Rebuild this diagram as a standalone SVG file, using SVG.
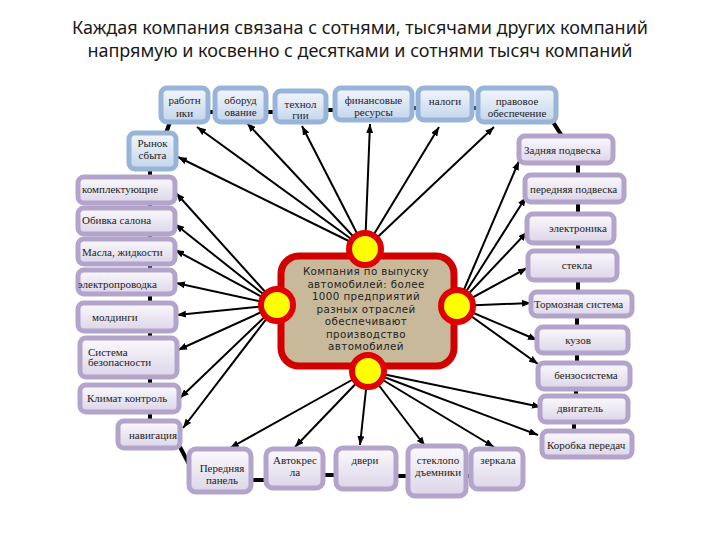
<svg xmlns="http://www.w3.org/2000/svg" width="720" height="540" viewBox="0 0 720 540">
<defs>
<linearGradient id="gp" x1="0" y1="0" x2="0" y2="1"><stop offset="0" stop-color="#fbfafd"/><stop offset="1" stop-color="#dcd5e8"/></linearGradient>
<linearGradient id="gb" x1="0" y1="0" x2="0" y2="1"><stop offset="0" stop-color="#f4f7fc"/><stop offset="1" stop-color="#c3d5ec"/></linearGradient>
<marker id="ah" markerUnits="userSpaceOnUse" markerWidth="9" markerHeight="7" refX="9" refY="3.5" orient="auto"><path d="M0,0 L9,3.5 L0,7 z" fill="#000"/></marker>
</defs>
<style>
.t{font-family:"Noto Sans","Liberation Sans",sans-serif;font-size:18px;fill:#1a1a1a;text-anchor:middle}
.p rect{fill:url(#gp);stroke:#b3a4cc;stroke-width:5}
.b rect{fill:url(#gb);stroke:#98b4d9;stroke-width:5}
.n text{font-family:"Liberation Serif",serif;font-size:11px;fill:#222}
.m{text-anchor:middle}
.ar line{stroke:#000;stroke-width:2;marker-end:url(#ah)}
.lk line{stroke:#000;stroke-width:4}
.c text{font-family:"DejaVu Sans",sans-serif;font-size:10.3px;letter-spacing:0.4px;fill:#222;text-anchor:middle}
.ci{fill:#ffff00;stroke:#e00000;stroke-width:6}
</style>
<rect width="720" height="540" fill="#fff"/>
<text class="t" x="360" y="34" textLength="576">Каждая компания связана с сотнями, тысячами других компаний</text>
<text class="t" x="360" y="57" textLength="545">напрямую и косвенно с десятками и сотнями тысяч компаний</text>

<g id="connectors">
<g class="lk">
<line x1="208" y1="112" x2="215" y2="112"/><line x1="266" y1="112" x2="275" y2="112"/><line x1="326" y1="110" x2="335" y2="110"/><line x1="412" y1="108" x2="418" y2="108"/><line x1="472" y1="108" x2="478" y2="108"/>
<line x1="553" y1="122" x2="562" y2="136"/>
<line x1="170" y1="122" x2="166" y2="133"/>
<line x1="150" y1="168" x2="150" y2="177"/><line x1="150" y1="203" x2="150" y2="208"/><line x1="150" y1="234" x2="150" y2="239"/><line x1="150" y1="264" x2="150" y2="270"/><line x1="150" y1="294" x2="150" y2="303"/><line x1="150" y1="331" x2="150" y2="338"/><line x1="150" y1="377" x2="150" y2="385"/><line x1="150" y1="412" x2="150" y2="421"/>
<line x1="180" y1="447" x2="190" y2="466"/>
<line x1="251" y1="480" x2="266" y2="480"/><line x1="323" y1="475" x2="336" y2="475"/><line x1="396" y1="476" x2="408" y2="476"/><line x1="466" y1="476" x2="471" y2="476"/>
<line x1="578" y1="163" x2="578" y2="175"/><line x1="578" y1="202" x2="578" y2="214"/><line x1="578" y1="243" x2="578" y2="251"/><line x1="578" y1="280" x2="578" y2="292"/><line x1="577" y1="316" x2="577" y2="327"/><line x1="577" y1="353" x2="577" y2="363"/><line x1="576" y1="389" x2="576" y2="396"/><line x1="574" y1="422" x2="574" y2="431"/>
</g>
<g class="ar">
<line x1="365" y1="249" x2="197" y2="127"/><line x1="365" y1="249" x2="247" y2="123"/><line x1="365" y1="249" x2="302" y2="126"/><line x1="365" y1="249" x2="370" y2="124"/><line x1="365" y1="249" x2="178" y2="157"/><line x1="365" y1="249" x2="439" y2="127"/><line x1="365" y1="249" x2="494" y2="127"/>
<line x1="277" y1="305" x2="176" y2="193"/><line x1="277" y1="305" x2="175" y2="224"/><line x1="277" y1="305" x2="175" y2="250"/><line x1="277" y1="305" x2="176" y2="283"/><line x1="277" y1="305" x2="177" y2="315"/><line x1="277" y1="305" x2="178" y2="350"/><line x1="277" y1="305" x2="180" y2="398"/><line x1="277" y1="305" x2="183" y2="428"/>
<line x1="457" y1="306" x2="519" y2="161"/><line x1="457" y1="306" x2="526" y2="197"/><line x1="457" y1="306" x2="527" y2="232"/><line x1="457" y1="306" x2="527" y2="268"/><line x1="457" y1="306" x2="531" y2="303"/><line x1="457" y1="306" x2="537" y2="340"/><line x1="457" y1="306" x2="538" y2="364"/>
<line x1="368" y1="371" x2="230" y2="448"/><line x1="368" y1="371" x2="295" y2="447"/><line x1="368" y1="371" x2="360" y2="445"/><line x1="368" y1="371" x2="425" y2="446"/><line x1="368" y1="371" x2="494" y2="447"/><line x1="368" y1="371" x2="541" y2="407"/><line x1="368" y1="371" x2="538" y2="435"/>
</g>
</g>

<g id="n-rabotniki" class="n b"><rect x="161" y="88" width="47" height="34" rx="6"/><text class="m" x="184.5" y="103.5">работн</text><text class="m" x="184.5" y="116.5">ики</text></g>
<g id="n-oborud" class="n b"><rect x="215" y="88" width="51" height="34" rx="6"/><text class="m" x="240.5" y="103.5">оборуд</text><text class="m" x="240.5" y="115.5">ование</text></g>
<g id="n-tehnol" class="n b"><rect x="275" y="91" width="51" height="31" rx="6"/><text class="m" x="300.5" y="108">технол</text><text class="m" x="300.5" y="119">гии</text></g>
<g id="n-finans" class="n b"><rect x="335" y="88" width="77" height="32" rx="6"/><text class="m" x="373.5" y="104">финансовые</text><text class="m" x="373.5" y="116">ресурсы</text></g>
<g id="n-nalogi" class="n b"><rect x="418" y="88" width="54" height="32" rx="6"/><text class="m" x="445" y="104.5">налоги</text></g>
<g id="n-pravo" class="n b"><rect x="478" y="88" width="78" height="34" rx="6"/><text class="m" x="517" y="105">правовое</text><text class="m" x="517" y="116.5">обеспечение</text></g>
<g id="n-rynok" class="n b"><rect x="129" y="133" width="47" height="36" rx="6"/><text class="m" x="152.5" y="146.5">Рынок</text><text class="m" x="152.5" y="158.5">сбыта</text></g>

<g id="n-komplekt" class="n p"><rect x="78" y="177" width="97" height="26" rx="6"/><text x="82" y="193">комплектующие</text></g>
<g id="n-obivka" class="n p"><rect x="78" y="208" width="97" height="26" rx="6"/><text x="82" y="224">Обивка салона</text></g>
<g id="n-masla" class="n p"><rect x="78" y="239" width="97" height="25" rx="6"/><text x="82" y="255.5">Масла, жидкости</text></g>
<g id="n-elprov" class="n p"><rect x="78" y="270" width="97" height="24" rx="6"/><text x="78" y="288">электропроводка</text></g>
<g id="n-moldingi" class="n p"><rect x="78" y="303" width="98" height="28" rx="6"/><text x="92" y="320.5">молдинги</text></g>
<g id="n-sistema" class="n p"><rect x="80" y="338" width="97" height="39" rx="6"/><text x="88" y="355.5">Система</text><text x="88" y="366">безопасности</text></g>
<g id="n-klimat" class="n p"><rect x="80" y="385" width="99" height="27" rx="6"/><text x="87" y="401.5">Климат контроль</text></g>
<g id="n-navig" class="n p"><rect x="118" y="421" width="62" height="27" rx="6"/><text class="m" x="153" y="438.5">навигация</text></g>

<g id="n-zadn" class="n p"><rect x="519" y="136" width="94" height="27" rx="6"/><text x="524" y="153.5">Задняя подвеска</text></g>
<g id="n-peredn" class="n p"><rect x="525" y="175" width="99" height="27" rx="6"/><text x="530" y="193">передняя подвеска</text></g>
<g id="n-elektr" class="n p"><rect x="527" y="214" width="87" height="29" rx="6"/><text class="m" x="578" y="231.5">электроника</text></g>
<g id="n-stekla" class="n p"><rect x="528" y="251" width="89" height="29" rx="6"/><text class="m" x="577" y="268.5">стекла</text></g>
<g id="n-torm" class="n p"><rect x="531" y="292" width="101" height="24" rx="6"/><text x="534" y="307.5">Тормозная система</text></g>
<g id="n-kuzov" class="n p"><rect x="537" y="327" width="91" height="26" rx="6"/><text class="m" x="578" y="343.5">кузов</text></g>
<g id="n-benz" class="n p"><rect x="538" y="363" width="92" height="26" rx="6"/><text class="m" x="586" y="378.5">бензосистема</text></g>
<g id="n-dvig" class="n p"><rect x="540" y="396" width="88" height="26" rx="6"/><text class="m" x="580" y="411.5">двигатель</text></g>
<g id="n-korob" class="n p"><rect x="542" y="431" width="90" height="26" rx="6"/><text x="547" y="448.5">Коробка передач</text></g>

<g id="n-panel" class="n p"><rect x="189" y="449" width="62" height="43" rx="7"/><text class="m" x="222" y="471.5">Передняя</text><text class="m" x="222" y="483.5">панель</text></g>
<g id="n-kresla" class="n p"><rect x="266" y="449" width="57" height="39" rx="7"/><text class="m" x="295" y="463.5">Автокрес</text><text class="m" x="295" y="475.5">ла</text></g>
<g id="n-dveri" class="n p"><rect x="336" y="448" width="60" height="41" rx="7"/><text class="m" x="365" y="463.5">двери</text></g>
<g id="n-steklopod" class="n p"><rect x="408" y="446" width="58" height="50" rx="7"/><text class="m" x="438" y="463.5">стеклопо</text><text class="m" x="438" y="475.5">дъемники</text></g>
<g id="n-zerkala" class="n p"><rect x="471" y="449" width="52" height="40" rx="7"/><text class="m" x="498" y="463.5">зеркала</text></g>

<g id="center" class="c">
<rect x="281" y="256" width="173" height="110" rx="18" fill="#c8b99b" stroke="#d10000" stroke-width="7"/>
<text x="366" y="275">Компания по выпуску</text>
<text x="366" y="287.5">автомобилей: более</text>
<text x="366" y="300">1000 предприятий</text>
<text x="366" y="312.5">разных отраслей</text>
<text x="366" y="325">обеспечивают</text>
<text x="366" y="337.5">производство</text>
<text x="366" y="350">автомобилей</text>
</g>
<g id="hub-top"><circle class="ci" cx="365" cy="249" r="16"/></g>
<g id="hub-left"><circle class="ci" cx="277" cy="305" r="16"/></g>
<g id="hub-right"><circle class="ci" cx="457" cy="306" r="16"/></g>
<g id="hub-bottom"><circle class="ci" cx="368" cy="371" r="16"/></g>
</svg>
